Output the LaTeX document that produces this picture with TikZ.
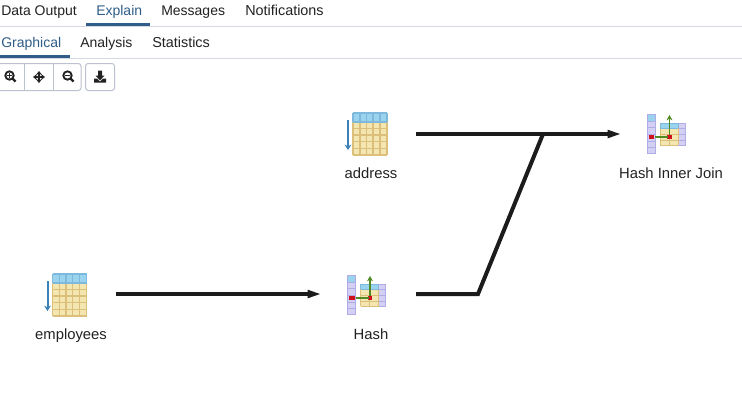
\documentclass[tikz,border=0pt]{standalone}
\usepackage{fontspec}
\setmainfont{Liberation Sans}
\usetikzlibrary{arrows.meta}
\definecolor{tabblue}{HTML}{2F5D88}
\definecolor{tabtext}{HTML}{222222}
\definecolor{rulegrey}{HTML}{D5D9E3}
\definecolor{btnborder}{HTML}{BCC3CF}
\definecolor{hdrblue}{HTML}{9AD3EE}
\definecolor{hdrline}{HTML}{7DB9DC}
\definecolor{cellyellow}{HTML}{F3E6B0}
\definecolor{cellline}{HTML}{DDBF7C}
\definecolor{purplefill}{HTML}{D3D0F4}
\definecolor{purpleline}{HTML}{B0ADE6}
\definecolor{arrowblue}{HTML}{3B82B8}
\definecolor{opgreen}{HTML}{4F8A22}
\definecolor{opred}{HTML}{D0101C}
\definecolor{edgeblack}{HTML}{1C1C1C}
\tikzset{
  x=0.75pt,y=-0.75pt,
  tabtxt/.style={font=\fontsize{10.5pt}{12pt}\selectfont,text=tabtext,inner sep=0pt,anchor=base west},
  tabsel/.style={tabtxt,text=tabblue},
  nodelabel/.style={font=\fontsize{11.1pt}{13pt}\selectfont,text=tabtext,inner sep=0pt,anchor=base},
  edge/.style={draw=edgeblack,line width=3pt,line join=miter},
  edgearrow/.style={edge,-{Triangle[length=10.5pt,width=5.6pt]}},
  tool/.style={draw=tabtext,line width=1.4pt},
  pics/tableicon/.style={code={
    \fill[cellyellow] (5,0) rectangle (39,42);
    \fill[hdrblue] (5,0) rectangle (39,9);
    \foreach \xx in {5,12,18.5,25,32,39}{
      \draw[cellline,line width=0.8pt] (\xx,9) -- (\xx,42);
      \draw[hdrline,line width=0.8pt] (\xx,0) -- (\xx,9);}
    \foreach \yy in {15.5,22,28.5,35.5,42}
      \draw[cellline,line width=0.8pt] (5,\yy) -- (39,\yy);
    \draw[hdrline,line width=0.8pt] (5,0) -- (39,0);
    \draw[hdrline,line width=0.8pt] (5,9) -- (39,9);
    \draw[arrowblue,line width=1.5pt,-{Stealth[length=4pt,width=5pt]}] (0,7) -- (0,37);
  }},
  pics/hashicon/.style={code={
    % left column
    \fill[purplefill] (0,0) rectangle (8,39);
    \fill[hdrblue] (0,0) rectangle (8,7);
    \draw[purpleline,line width=0.7pt] (0,0) rectangle (8,39);
    \foreach \yy in {7,13.5,20,27,33}
      \draw[purpleline,line width=0.7pt] (0,\yy) -- (8,\yy);
    % right table
    \fill[purplefill] (31,9) rectangle (38,31);
    \draw[purpleline,line width=0.7pt] (31,9) rectangle (38,31);
    \foreach \yy in {14,20,26}
      \draw[purpleline,line width=0.7pt] (31,\yy) -- (38,\yy);
    \fill[cellyellow] (13,9) rectangle (31,31);
    \fill[hdrblue] (13,9) rectangle (31,14);
    \foreach \xx in {13,22,31}
      \draw[cellline,line width=0.7pt] (\xx,14) -- (\xx,31);
    \foreach \yy in {20,26,31}
      \draw[cellline,line width=0.7pt] (13,\yy) -- (31,\yy);
    \draw[hdrline,line width=0.7pt] (13,9) -- (31,9);
    \draw[hdrline,line width=0.7pt] (13,14) -- (31,14);
    \foreach \xx in {13,22,31}
      \draw[hdrline,line width=0.7pt] (\xx,9) -- (\xx,14);
    % marks
    \fill[opred] (1.5,21) rectangle (7,25);
    \fill[opred] (20,21) rectangle (24.5,25);
    \draw[opgreen,line width=1.1pt] (8,23) -- (21,23);
    \draw[opgreen,line width=1.1pt,-{Stealth[length=4pt,width=4.5pt]}] (22.5,21) -- (22.5,1);
  }},
}
\begin{document}
\begin{tikzpicture}
\useasboundingbox (0,0) rectangle (742,405);
\fill[white] (0,0) rectangle (742,405);

% tabs
\draw[rulegrey,line width=0.8pt] (0,26.5) -- (742,26.5);
\draw[rulegrey,line width=0.8pt] (0,58.5) -- (742,58.5);
\fill[tabblue] (86,23) rectangle (150,26);
\fill[tabblue] (0,55) rectangle (70,58);
\node[tabtxt] (tabdata) at (1,15) {Data Output};
\node[tabsel] (tabexplain) at (96,15) {Explain};
\node[tabtxt] (tabmsg) at (161,15) {Messages};
\node[tabtxt,font=\fontsize{10.8pt}{12pt}\selectfont] (tabnote) at (245,15) {Notifications};
\node[tabsel] (subgraph) at (1,47) {Graphical};
\node[tabtxt] (subanal) at (80,47) {Analysis};
\node[tabtxt,font=\fontsize{10.8pt}{12pt}\selectfont] (substat) at (152,47) {Statistics};

% toolbar
\draw[btnborder,line width=0.75pt,rounded corners=2pt] (-4,63.5) rectangle (81,90.5);
\draw[btnborder,line width=0.75pt] (24.5,63.5) -- (24.5,90.5);
\draw[btnborder,line width=0.75pt] (53.5,63.5) -- (53.5,90.5);
\draw[btnborder,line width=0.75pt,rounded corners=2pt] (85.5,63.5) rectangle (114.5,90.5);
% zoom in
\draw[tool] (9.5,75.5) circle (4.2);
\draw[tabtext,line width=1.7pt] (12.6,78.6) -- (15.6,81.6);
\draw[tabtext,line width=0.8pt] (7.2,75.5) -- (11.8,75.5) (9.5,73.2) -- (9.5,77.8);
% move
\draw[tabtext,line width=1.2pt,{Stealth[length=3pt,width=4.5pt]}-{Stealth[length=3pt,width=4.5pt]}] (33,77) -- (45,77);
\draw[tabtext,line width=1.2pt,{Stealth[length=3pt,width=4.5pt]}-{Stealth[length=3pt,width=4.5pt]}] (39,71) -- (39,83);
% zoom out
\draw[tool] (67.5,75.5) circle (4.2);
\draw[tabtext,line width=1.7pt] (70.6,78.6) -- (73.6,81.6);
\draw[tabtext,line width=0.8pt] (65.2,75.5) -- (69.8,75.5);
% download
\fill[tabtext] (98,70.5) rectangle (102,75.5) -- (104.5,75.5) -- (100,80.5) -- (95.5,75.5) -- (98,75.5) -- cycle;
\fill[tabtext] (94,78.5) -- (97,78.5) -- (100,81.5) -- (103,78.5) -- (106,78.5) -- (106,82.5) -- (94,82.5) -- cycle;

% icons
\pic at (348,113) {tableicon};
\pic at (47.5,274) {tableicon};
\pic at (347.5,275) {hashicon};
\pic at (647,114) {hashicon};

% labels
\node[nodelabel] (address) at (371,178) {address};
\node[nodelabel] (join) at (671,178) {Hash Inner Join};
\node[nodelabel] (employees) at (71,339) {employees};
\node[nodelabel] (hash) at (371,339) {Hash};

% connector ends
\coordinate (addrout) at (416,134);
\coordinate (joinin) at (621.5,134);
\coordinate (hashout) at (416,294);
\coordinate (bend) at (478,294);
\coordinate (merge) at (543,134);
\coordinate (empout) at (116,294);
\coordinate (hashin) at (321.5,294);

\draw[edgearrow] (addrout) -- (joinin);
\draw[edge] (hashout) -- (bend) -- (merge);
\draw[edgearrow] (empout) -- (hashin);
\end{tikzpicture}
\end{document}
